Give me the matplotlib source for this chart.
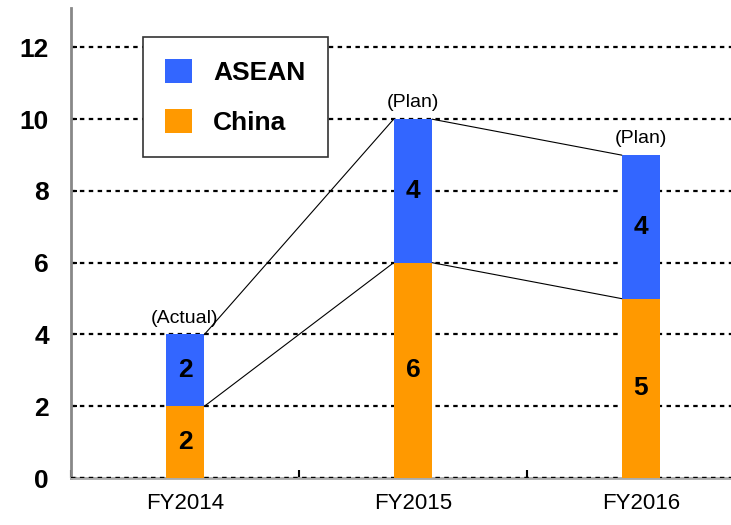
import matplotlib
matplotlib.use('Agg')
import matplotlib.pyplot as plt
import numpy as np

plt.rcParams['font.family'] = ['Liberation Sans', 'DejaVu Sans']

# data
years = ['FY2014', 'FY2015', 'FY2016']
notes = ['(Actual)', '(Plan)', '(Plan)']
china = [2, 6, 5]
asean = [2, 4, 4]

blue = '#3366FF'
orange = '#FF9900'

fig = plt.figure(figsize=(7.31, 5.25), dpi=100)
ax = fig.add_axes([71 / 731, 47 / 525, 660 / 731, 470 / 525])

x = np.arange(len(years))
w = 0.17
tot = np.array(china) + np.array(asean)

ax.bar(x, china, w, color=orange, label='China', zorder=3)
ax.bar(x, asean, w, bottom=china, color=blue, label='ASEAN', zorder=3)

# connector lines between bars
for i in range(len(x) - 1):
    for vals in (china, tot):
        ax.plot([x[i] + w / 2, x[i + 1] - w / 2], [vals[i], vals[i + 1]],
                color='black', lw=0.8, zorder=4)

# value labels
narrow = ['Liberation Sans Narrow', 'Liberation Sans', 'DejaVu Sans']
for i in range(len(x)):
    ax.text(x[i], china[i] / 2, str(china[i]), ha='center', va='center',
            fontsize=19, fontweight='bold', family=narrow, zorder=5)
    ax.text(x[i], china[i] + asean[i] / 2, str(asean[i]), ha='center',
            va='center', fontsize=19, fontweight='bold', family=narrow, zorder=5)
    ax.text(x[i], tot[i] + 0.22, notes[i], ha='center', va='bottom',
            fontsize=14, zorder=5)

ax.set_xlim(-0.5, 2.395)
ax.set_ylim(0, 13.1)
ax.set_yticks(range(0, 13, 2))
ax.set_yticklabels([str(v) for v in range(0, 13, 2)], fontsize=19, fontweight='bold')
ax.set_xticks(x)
ax.set_xticklabels(years, fontsize=16, family=narrow)
ax.tick_params(axis='x', length=0, pad=11)
ax.tick_params(axis='y', direction='in', length=4, width=1.5, pad=16)
# category boundary ticks
ax.set_xticks(np.arange(len(years)) - 0.5, minor=True)
ax.tick_params(axis='x', which='minor', direction='in', length=6, width=1.5)

ax.yaxis.grid(True, linestyle=(0, (2, 2)), color='black', lw=1.6, zorder=1)
ax.set_axisbelow(True)
for s in ('top', 'right'):
    ax.spines[s].set_visible(False)
ax.spines['left'].set_color('#888888')
ax.spines['left'].set_linewidth(2)
ax.spines['bottom'].set_color('#aaaaaa')
ax.spines['bottom'].set_linewidth(2)
ax.axhline(0, linestyle=(0, (2, 2)), color='black', lw=1.6, zorder=2.7)

h, l = ax.get_legend_handles_labels()
leg = ax.legend(h[::-1], l[::-1], loc='upper left',
                bbox_to_anchor=(72 / 660, 1 - 29 / 470),
                prop={'size': 19, 'weight': 'bold'}, frameon=True,
                fancybox=False, edgecolor='#333333', framealpha=1,
                handlelength=1.0, handleheight=1.0, labelspacing=0.9,
                borderpad=0.85, handletextpad=0.8, borderaxespad=0)
leg.get_frame().set_linewidth(1.2)
leg.set_zorder(6)

fig.savefig('out.png', dpi=100)
